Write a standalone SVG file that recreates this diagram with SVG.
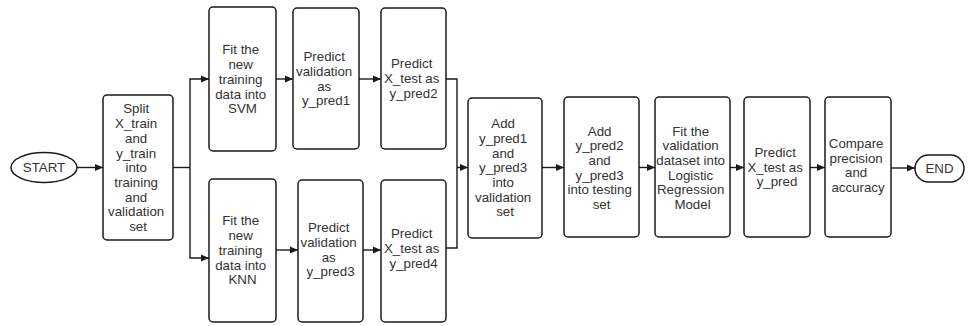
<svg xmlns="http://www.w3.org/2000/svg" width="969" height="326" viewBox="0 0 969 326">
  <style>
    .box { fill: #ffffff; stroke: #1a1a1a; stroke-width: 1.5; }
    .lbl { font-family: "Liberation Sans", Arial, sans-serif; font-size: 13.3px; fill: #333333; text-anchor: middle; }
    .edge { fill: none; stroke: #1a1a1a; stroke-width: 1.4; }
    .arrow { marker-end: url(#head); }
  </style>
  <defs>
    <marker id="head" viewBox="0 0 8 8" refX="8" refY="4" markerWidth="8" markerHeight="8" markerUnits="userSpaceOnUse" orient="auto">
      <path d="M0,0.6 L8,4 L0,7.4 Z" fill="#1a1a1a"/>
    </marker>
  </defs>
  <rect width="969" height="326" fill="#ffffff"/>

  <g id="connectors">
    <line class="edge arrow" x1="77" y1="167.5" x2="103" y2="167.5"/>
    <polyline class="edge" points="173,167.5 190,167.5"/>
    <polyline class="edge arrow" points="190,167.5 190,79 209,79"/>
    <polyline class="edge arrow" points="190,167.5 190,258 209,258"/>
    <line class="edge arrow" x1="276" y1="79" x2="293" y2="79"/>
    <line class="edge arrow" x1="359" y1="79" x2="381" y2="79"/>
    <line class="edge arrow" x1="276" y1="250" x2="298" y2="250"/>
    <line class="edge arrow" x1="363" y1="250" x2="381" y2="250"/>
    <polyline class="edge" points="446,79 457,79 457,248 446,248"/>
    <line class="edge arrow" x1="457" y1="167.5" x2="468" y2="167.5"/>
    <line class="edge arrow" x1="542" y1="167.5" x2="564" y2="167.5"/>
    <line class="edge arrow" x1="639" y1="167.5" x2="655" y2="167.5"/>
    <line class="edge arrow" x1="730" y1="167.5" x2="744" y2="167.5"/>
    <line class="edge arrow" x1="810" y1="167.5" x2="825" y2="167.5"/>
    <line class="edge arrow" x1="891" y1="168" x2="915" y2="168"/>
  </g>

  <g id="start">
    <ellipse class="box" cx="44" cy="167.5" rx="33" ry="15"/>
    <text class="lbl" x="44" y="172.3">START</text>
  </g>

  <g id="split">
    <rect class="box" x="103" y="95" width="70" height="145" rx="4"/>
    <text class="lbl" x="138" y="113.4">
      <tspan x="138">Split</tspan>
      <tspan x="138" dy="14.7">X_train</tspan>
      <tspan x="138" dy="14.7">and</tspan>
      <tspan x="138" dy="14.7">y_train</tspan>
      <tspan x="138" dy="14.7">into</tspan>
      <tspan x="138" dy="14.7">training</tspan>
      <tspan x="138" dy="14.7">and</tspan>
      <tspan x="138" dy="14.7">validation</tspan>
      <tspan x="138" dy="14.7">set</tspan>
    </text>
  </g>

  <g id="fit-svm">
    <rect class="box" x="209" y="7" width="67" height="144" rx="4"/>
    <text class="lbl" x="242.5" y="54.4">
      <tspan x="242.5">Fit the</tspan>
      <tspan x="242.5" dy="14.7">new</tspan>
      <tspan x="242.5" dy="14.7">training</tspan>
      <tspan x="242.5" dy="14.7">data into</tspan>
      <tspan x="242.5" dy="14.7">SVM</tspan>
    </text>
  </g>

  <g id="fit-knn">
    <rect class="box" x="209" y="179" width="67" height="143" rx="4"/>
    <text class="lbl" x="242.5" y="225.4">
      <tspan x="242.5">Fit the</tspan>
      <tspan x="242.5" dy="14.7">new</tspan>
      <tspan x="242.5" dy="14.7">training</tspan>
      <tspan x="242.5" dy="14.7">data into</tspan>
      <tspan x="242.5" dy="14.7">KNN</tspan>
    </text>
  </g>

  <g id="predict-val-1">
    <rect class="box" x="293" y="8" width="66" height="141" rx="4"/>
    <text class="lbl" x="326" y="61.2">
      <tspan x="326">Predict</tspan>
      <tspan x="326" dy="14.7">validation</tspan>
      <tspan x="326" dy="14.7">as</tspan>
      <tspan x="326" dy="14.7">y_pred1</tspan>
    </text>
  </g>

  <g id="predict-test-2">
    <rect class="box" x="381" y="8" width="65" height="141" rx="4"/>
    <text class="lbl" x="413.5" y="68.1">
      <tspan x="413.5">Predict</tspan>
      <tspan x="413.5" dy="14.7">X_test as</tspan>
      <tspan x="413.5" dy="14.7">y_pred2</tspan>
    </text>
  </g>

  <g id="predict-val-3">
    <rect class="box" x="298" y="180" width="65" height="142" rx="4"/>
    <text class="lbl" x="330.5" y="232.2">
      <tspan x="330.5">Predict</tspan>
      <tspan x="330.5" dy="14.7">validation</tspan>
      <tspan x="330.5" dy="14.7">as</tspan>
      <tspan x="330.5" dy="14.7">y_pred3</tspan>
    </text>
  </g>

  <g id="predict-test-4">
    <rect class="box" x="381" y="180" width="65" height="142" rx="4"/>
    <text class="lbl" x="413.5" y="238.1">
      <tspan x="413.5">Predict</tspan>
      <tspan x="413.5" dy="14.7">X_test as</tspan>
      <tspan x="413.5" dy="14.7">y_pred4</tspan>
    </text>
  </g>

  <g id="add-validation">
    <rect class="box" x="468" y="98" width="74" height="140" rx="4"/>
    <text class="lbl" x="505" y="128.1">
      <tspan x="505">Add</tspan>
      <tspan x="505" dy="14.7">y_pred1</tspan>
      <tspan x="505" dy="14.7">and</tspan>
      <tspan x="505" dy="14.7">y_pred3</tspan>
      <tspan x="505" dy="14.7">into</tspan>
      <tspan x="505" dy="14.7">validation</tspan>
      <tspan x="505" dy="14.7">set</tspan>
    </text>
  </g>

  <g id="add-testing">
    <rect class="box" x="564" y="97" width="75" height="140" rx="4"/>
    <text class="lbl" x="601.5" y="135.5">
      <tspan x="601.5">Add</tspan>
      <tspan x="601.5" dy="14.7">y_pred2</tspan>
      <tspan x="601.5" dy="14.7">and</tspan>
      <tspan x="601.5" dy="14.7">y_pred3</tspan>
      <tspan x="601.5" dy="14.7">into testing</tspan>
      <tspan x="601.5" dy="14.7">set</tspan>
    </text>
  </g>

  <g id="fit-logistic">
    <rect class="box" x="655" y="97" width="75" height="140" rx="4"/>
    <text class="lbl" x="692.5" y="135.5">
      <tspan x="692.5">Fit the</tspan>
      <tspan x="692.5" dy="14.7">validation</tspan>
      <tspan x="692.5" dy="14.7">dataset into</tspan>
      <tspan x="692.5" dy="14.7">Logistic</tspan>
      <tspan x="692.5" dy="14.7">Regression</tspan>
      <tspan x="692.5" dy="14.7">Model</tspan>
    </text>
  </g>

  <g id="predict-test">
    <rect class="box" x="744" y="97" width="66" height="140" rx="4"/>
    <text class="lbl" x="777" y="157">
      <tspan x="777">Predict</tspan>
      <tspan x="777" dy="14.7">X_test as</tspan>
      <tspan x="777" dy="14.7">y_pred</tspan>
    </text>
  </g>

  <g id="compare">
    <rect class="box" x="825" y="97" width="66" height="140" rx="4"/>
    <text class="lbl" x="858" y="148">
      <tspan x="858">Compare</tspan>
      <tspan x="858" dy="14.7">precision</tspan>
      <tspan x="858" dy="14.7">and</tspan>
      <tspan x="858" dy="14.7">accuracy</tspan>
    </text>
  </g>

  <g id="end">
    <rect class="box" x="915" y="155" width="49" height="27" rx="13.5"/>
    <text class="lbl" x="939.5" y="173.3">END</text>
  </g>
</svg>
